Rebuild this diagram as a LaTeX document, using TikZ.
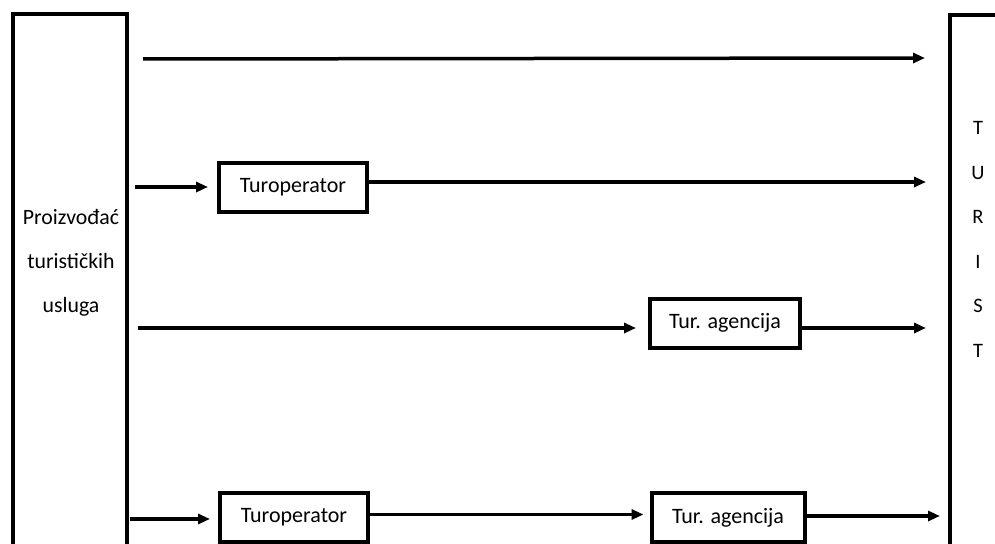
\documentclass[tikz,border=0pt]{standalone}
\usepackage{fontspec}
\setmainfont{Carlito}
\usetikzlibrary{arrows.meta,calc}
\begin{document}
\begin{tikzpicture}[x=1pt,y=-1pt,
  bigbox/.style={draw,line width=4pt,outer sep=0pt,inner sep=0pt,anchor=north west,minimum height=620pt},
  midbox/.style={draw,line width=4pt,minimum width=148pt,minimum height=49pt,inner sep=0pt,font=\fontsize{22}{26}\selectfont},
  lbl/.style={anchor=base,inner sep=0pt,font=\fontsize{21.8}{26}\selectfont},
  letter/.style={anchor=base,inner sep=0pt,font=\fontsize{20.5}{24}\selectfont},
  arr/.style={line width=3.5pt,-{Triangle[length=12pt,width=10pt]}},
]
\useasboundingbox (0,0) rectangle (995,543);
% big boxes
\node[bigbox,minimum width=114pt] (prod) at (13,14) {};
\node[bigbox,minimum width=100pt] (tour) at (950,15) {};
% producer text
\node[lbl] (p1) at (71,224) {Proizvođać};
\node[lbl] (p2) at (71,268) {turističkih};
\node[lbl] (p3) at (71,312.5) {usluga};
% tourist letters
\node[letter] (l1) at (978,134.5) {T};
\node[letter] (l2) at (978,179) {U};
\node[letter] (l3) at (978,223.5) {R};
\node[letter] (l4) at (978,268) {I};
\node[letter] (l5) at (978,312.5) {S};
\node[letter] (l6) at (978,357) {T};
% intermediary boxes
\node[midbox] (t1) at (293,187.5) {Turoperator};
\node[midbox,minimum width=150pt] (ag1) at (725,323) {Tur. agencija};
\node[midbox] (t2) at (294,517.5) {Turoperator};
\node[midbox,minimum width=153pt] (ag2) at (728,517.5) {Tur. agencija};
% coordinates for free ends
\coordinate (a1s) at (143,59);
\coordinate (a1e) at (925,58);
\coordinate (a2s) at (135,187);
\coordinate (a2e) at (926,182);
\coordinate (a3s) at (138,328);
\coordinate (a3e) at (926,328);
\coordinate (a4s) at (130,519);
\coordinate (a4e) at (940,516);
% arrows
\draw[arr] (a1s) -- (a1e);
\draw[arr,shorten >=9pt] (a2s) -- (a2s -| t1.west);
\draw[arr] (t1.east |- a2e) -- (a2e);
\draw[arr,shorten >=12pt] (a3s) -- (a3s -| ag1.west);
\draw[arr] (ag1.east |- a3e) -- (a3e);
\draw[arr,shorten >=8pt] (a4s) -- (a4s -| t2.west);
\draw[arr,shorten >=6pt] ([yshift=3pt]t2.east) -- ([yshift=3pt]ag2.west);
\draw[arr] (ag2.east |- a4e) -- (a4e);
\end{tikzpicture}
\end{document}
